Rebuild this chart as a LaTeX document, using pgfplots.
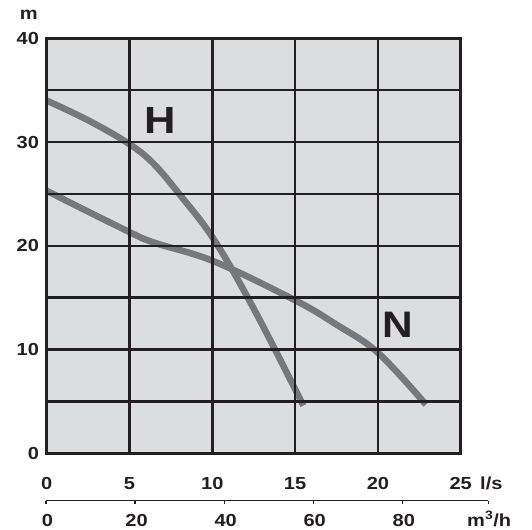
\documentclass[border=0pt]{standalone}
\usepackage{fontspec}
\setmainfont{Liberation Sans}[FakeStretch=1.15]
\usepackage{pgfplots}
\pgfplotsset{compat=1.18}
\definecolor{bgc}{HTML}{DCDDDF}
\definecolor{gridc}{HTML}{231F20}
\definecolor{curvec}{HTML}{77787B}
\begin{document}
\begin{tikzpicture}[font=\fontsize{17.5}{20}\selectfont\bfseries]
\path[use as bounding box] (-46.7bp,-76.7bp) rectangle (485.3bp,453.3bp);
\begin{axis}[
  at={(0,0)}, anchor=south west,
  scale only axis, width=414bp, height=415bp,
  xmin=0, xmax=25, ymin=0, ymax=40,
  xtick={0,5,10,15,20,25}, xticklabels={0,5,10,15,20,25},
  ytick={0,10,20,30,40}, yticklabels={0,10,20,30,40},
  minor ytick={5,15,25,35},
  grid=both,
  major grid style={draw=gridc, line width=2.4bp},
  minor grid style={draw=gridc, line width=2.4bp},
  axis line style={draw=gridc, line width=2.8bp},
  major tick length=0pt, minor tick length=0pt,
  axis background/.style={fill=bgc},
  axis on top,
  /pgf/number format/assume math mode=true,
  tick label style={font=\fontsize{17.5}{20}\selectfont\bfseries, text=gridc},
  xticklabel style={anchor=center, inner sep=0pt, yshift=-30bp},
  yticklabel style={anchor=east, inner sep=0pt, xshift=-7.5bp},
  clip=false,
]
\addplot[curvec, line width=6.5bp, smooth, tension=0.6, no markers] coordinates {
 (0,34.0) (2.5,32.1) (4.9,29.9) (6.4,28.0) (8.0,25.0) (10.1,20.6)
 (12.55,13.8) (15.5,4.6)};
\addplot[curvec, line width=6.5bp, smooth, tension=0.6, no markers] coordinates {
 (0,25.3) (4.9,21.4) (6.5,20.3) (10.1,18.5) (15,14.75) (17.5,12.4) (20,9.7) (22.9,4.7)};
\node[font=\fontsize{38}{40}\selectfont\bfseries, text=gridc, inner sep=0pt] at (axis cs:6.84,32.08) {H};
\node[font=\fontsize{37}{40}\selectfont\bfseries, text=gridc, inner sep=0pt] at (axis cs:21.18,12.37) {N};
\end{axis}
\begin{axis}[
  at={(-0.7bp,-47.4bp)}, anchor=south west,
  scale only axis, width=442.3bp, height=10bp,
  xmin=0, xmax=99.3, ymin=0, ymax=1,
  axis x line*=bottom, hide y axis,
  x axis line style={draw=gridc, line width=1.2bp, -},
  xtick={0,20,40,60,80,99.3}, xticklabels={0,20,40,60,80,{}},
  xtick style={draw=gridc, line width=1.2bp},
  major tick length=3.5bp, tick align=outside,
  tick label style={font=\fontsize{17.5}{20}\selectfont\bfseries, text=gridc},
  xticklabel style={anchor=center, inner sep=0pt, yshift=-15.8bp, xshift=1.5bp},
]
\addplot[draw=none] coordinates {(0,0)};
\end{axis}
\node[anchor=base west, inner sep=0pt, text=gridc] at (433.3bp,-36.15bp) {l/s};
\node[anchor=base west, inner sep=0pt, text=gridc] at (420.3bp,-72.9bp) {m\textsuperscript{3}/h};
\node[anchor=base east, inner sep=0pt, text=gridc] at (-8.7bp,433.3bp) {m};
\end{tikzpicture}
\end{document}
